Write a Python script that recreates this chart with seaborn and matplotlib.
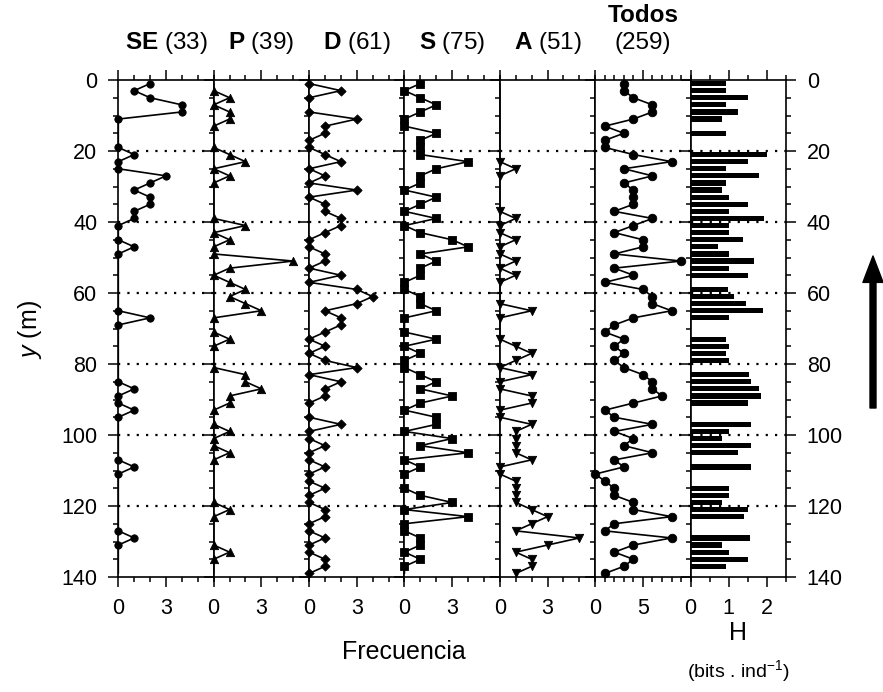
import matplotlib
matplotlib.use("Agg")
import numpy as np
import pandas as pd
import matplotlib.pyplot as plt
import seaborn as sns
from matplotlib.ticker import MultipleLocator, FixedLocator
from matplotlib.patches import FancyArrowPatch

# ---------------- data (depth in m, odd depths 1..139) ----------------
depth = list(range(1, 140, 2))

SE = [2, 1, 2, 4, 4, 0, 0, 0, 0, 0,
      1, 0, 0, 3, 2, 1, 2, 2, 1, 1,
      0, 0, 0, 1, 0, 0, 0, 0, 0, 0,
      0, 0, 0, 2, 0, 0, 0, 0, 0, 0,
      0, 0, 0, 1, 0, 0, 1, 0, 0, 0,
      0, 0, 0, 0, 1, 0, 0, 0, 0, 0,
      0, 0, 0, 0, 1, 0, 0, 0, 0, 0]

P = [0, 0, 1, 0, 1, 1, 0, 0, 0, 0,
     1, 2, 0, 1, 0, 0, 0, 0, 0, 0,
     2, 0, 1, 0, 0, 5, 1, 0, 1, 2,
     1, 2, 3, 0, 0, 0, 1, 0, 0, 0,
     0, 2, 2, 3, 1, 1, 0, 0, 0, 1,
     0, 0, 1, 0, 0, 0, 0, 0, 0, 0,
     1, 0, 0, 0, 0, 0, 1, 0, 0, 0]

D = [0, 2, 0, 0, 0, 3, 1, 1, 0, 0,
     1, 2, 0, 1, 0, 3, 0, 1, 1, 2,
     2, 1, 0, 0, 1, 1, 0, 2, 0, 3,
     4, 3, 1, 2, 2, 1, 0, 1, 0, 1,
     3, 0, 2, 1, 1, 0, 0, 0, 2, 0,
     0, 1, 0, 0, 1, 0, 0, 1, 0, 0,
     1, 1, 0, 0, 1, 0, 0, 1, 1, 0]

S = [1, 0, 1, 2, 1, 0, 0, 2, 1, 1,
     1, 4, 2, 1, 1, 0, 2, 1, 0, 2,
     0, 1, 3, 4, 1, 2, 1, 1, 0, 0,
     1, 1, 2, 0, 0, 0, 2, 0, 1, 0,
     0, 1, 2, 1, 3, 1, 0, 2, 2, 0,
     3, 1, 4, 0, 1, 0, 0, 0, 1, 3,
     0, 4, 0, 0, 1, 1, 0, 1, 0, 0]

A = [0, 0, 0, 0, 0, 0, 0, 0, 0, 0,
     0, 0, 1, 0, 0, 0, 0, 0, 0, 1,
     0, 0, 1, 0, 0, 1, 0, 1, 0, 0,
     0, 0, 2, 0, 0, 0, 0, 1, 2, 1,
     0, 2, 0, 0, 2, 2, 0, 0, 2, 1,
     1, 1, 1, 2, 0, 0, 1, 1, 1, 1,
     2, 3, 2, 1, 5, 3, 1, 2, 2, 1]

Todos = [3, 3, 4, 6, 6, 4, 1, 3, 1, 1,
         4, 8, 3, 6, 3, 4, 4, 4, 2, 6,
         4, 2, 5, 5, 2, 9, 2, 4, 1, 5,
         6, 6, 8, 4, 2, 1, 3, 2, 3, 2,
         3, 5, 6, 6, 7, 4, 1, 2, 6, 2,
         4, 3, 6, 2, 3, 0, 1, 2, 2, 4,
         4, 8, 2, 1, 8, 4, 2, 4, 3, 1]

H = [0.92, 0.92, 1.50, 0.92, 1.25, 0.81, 0.00, 0.92, 0.00, 0.00,
     2.00, 1.50, 0.92, 1.79, 0.92, 0.81, 1.00, 1.50, 1.00, 1.92,
     1.00, 1.00, 1.37, 0.72, 1.00, 1.66, 1.00, 1.50, 0.00, 0.97,
     1.15, 1.46, 1.91, 1.00, 0.00, 0.00, 0.92, 1.00, 0.92, 1.00,
     0.00, 1.52, 1.58, 1.79, 1.84, 1.50, 0.00, 0.00, 1.58, 1.00,
     0.81, 1.58, 1.25, 0.00, 1.58, 0.00, 0.00, 1.00, 1.00, 0.81,
     1.50, 1.41, 0.00, 0.00, 1.55, 0.81, 1.00, 1.50, 0.92, 0.00]

group_names = ["SE", "P", "D", "S", "A", "Todos"]
group_totals = [33, 39, 61, 75, 51, 259]
y_ticks = [0, 20, 40, 60, 80, 100, 120, 140]
grid_depths = [20, 40, 60, 80, 100, 120]

# ---------------- style ----------------
sns.set_theme(style="ticks")
plt.rcParams['font.family'] = ['Liberation Sans', 'DejaVu Sans']
plt.rcParams['mathtext.fontset'] = 'custom'
plt.rcParams['mathtext.rm'] = 'Liberation Sans'
plt.rcParams['mathtext.bf'] = 'Liberation Sans:bold'
plt.rcParams['mathtext.it'] = 'Liberation Sans:italic'
plt.rcParams['axes.linewidth'] = 1.2
plt.rcParams['text.color'] = 'black'
plt.rcParams['axes.labelcolor'] = 'black'
plt.rcParams['xtick.color'] = 'black'
plt.rcParams['ytick.color'] = 'black'
plt.rcParams['axes.edgecolor'] = 'black'

fig = plt.figure(figsize=(8.83, 6.92), dpi=100)
L, R, B, T = 118.3 / 883, 786 / 883, 1 - 577 / 692, 1 - 80 / 692
w = (R - L) / 7
axes = [fig.add_axes([L + i * w, B, w, T - B]) for i in range(7)]

series = [SE, P, D, S, A, Todos]
markers = ["o", "^", "D", "s", "v", "o"]
msizes = [28, 36, 22, 28, 36, 38]
xmax = [6, 6, 6, 6, 6, 10]
xmaj = [[0, 3]] * 5 + [[0, 5]]

def style_axis(ax, i):
    ax.set_ylim(140, 0)
    ax.yaxis.set_major_locator(FixedLocator(y_ticks))
    ax.yaxis.set_minor_locator(MultipleLocator(5))
    ax.tick_params(which='both', direction='out', top=True, bottom=True,
                   left=True, right=(i == 6), labelleft=(i == 0),
                   labelright=(i == 6), labelsize=15.5, color='black',
                   width=1.1, labelcolor='black')
    ax.tick_params(which='major', length=7, pad=8)
    ax.tick_params(which='minor', length=3.5)
    ax.set_xlabel('')
    ax.set_ylabel('')
    ax.grid(False)
    for sp in ax.spines.values():
        sp.set_color('black')
        sp.set_linewidth(1.2)
    for g in grid_depths:
        ax.axhline(g, color='black', ls=(0, (1, 3.2)), lw=1.6, zorder=0)

for i, (ax, vals) in enumerate(zip(axes[:6], series)):
    df = pd.DataFrame({'depth': depth, 'n': vals})
    sns.lineplot(data=df, x='n', y='depth', orient='y', estimator=None,
                 color='black', lw=1.2, ax=ax)
    v = np.array(vals)
    prev = np.r_[0, v[:-1]]
    nxt = np.r_[v[1:], 0]
    show = (v > 0) | (prev > 0) | (nxt > 0)
    sns.scatterplot(data=df[show], x='n', y='depth', marker=markers[i],
                    s=msizes[i], color='black', edgecolor='black',
                    linewidth=0.6, ax=ax, clip_on=False, zorder=5,
                    legend=False)
    ax.set_xlim(0, xmax[i])
    ax.xaxis.set_major_locator(FixedLocator(xmaj[i]))
    ax.xaxis.set_minor_locator(MultipleLocator(1))
    style_axis(ax, i)

# H panel
axH = axes[6]
dfh = pd.DataFrame({'depth': depth, 'H': H})
sns.barplot(data=dfh, x='H', y='depth', orient='y', native_scale=True,
            color='black', saturation=1, width=0.74, errorbar=None,
            linewidth=0, ax=axH)
axH.set_xlim(0, 2.5)
axH.xaxis.set_major_locator(FixedLocator([0, 1, 2]))
axH.xaxis.set_minor_locator(MultipleLocator(0.5))
style_axis(axH, 6)

# titles
for ax, name, tot in zip(axes[:5], group_names[:5], group_totals[:5]):
    ax.text(0.5, 1.062, r"$\mathbf{%s}$ (%d)" % (name, tot), transform=ax.transAxes,
            ha='center', va='baseline', fontsize=17.5)
axes[5].text(0.5, 1.116, "Todos", transform=axes[5].transAxes, ha='center',
             va='baseline', fontsize=17.5, fontweight='bold')
axes[5].text(0.5, 1.062, "(%d)" % group_totals[5], transform=axes[5].transAxes,
             ha='center', va='baseline', fontsize=17.5)

fig.text(404 / 883, 1 - 652 / 692, "Frecuencia", ha='center', va='center', fontsize=18)
fig.text(738 / 883, 1 - 633 / 692, "H", ha='center', va='center', fontsize=18)
fig.text(738 / 883, 1 - 671 / 692, r"(bits . ind$^{\mathregular{-1}}$)", ha='center',
         va='center', fontsize=14)
fig.text(30 / 883, 1 - 330 / 692, r"$\mathit{y}$ (m)", ha='center', va='center',
         rotation=90, fontsize=18)

arrow = FancyArrowPatch((873 / 883, 1 - 408 / 692), (873 / 883, 1 - 256 / 692),
                        transform=fig.transFigure,
                        arrowstyle="simple,head_length=19,head_width=14.5,tail_width=4.3",
                        mutation_scale=1, color='black', shrinkA=0, shrinkB=0)
fig.add_artist(arrow)

fig.savefig("out.png", dpi=100)
